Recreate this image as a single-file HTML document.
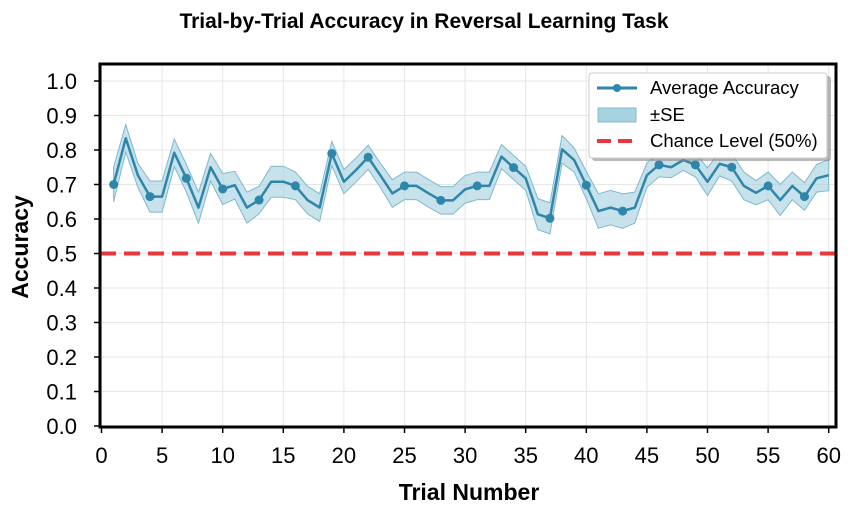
<!DOCTYPE html>
<html><head><meta charset="utf-8"><style>
html,body{margin:0;padding:0;background:#fff;}
svg{display:block;font-family:"Liberation Sans",Arial,sans-serif;}
</style></head><body>
<svg id="chart" width="851" height="510" viewBox="0 0 851 510">
<text x="424" y="28" text-anchor="middle" font-size="21" font-weight="bold">Trial-by-Trial Accuracy in Reversal Learning Task</text>
<g id="grid"></g>
<g id="band"></g>
<line id="chance" stroke="#e8383d" stroke-width="4" stroke-dasharray="16,8"/>
<g id="series"></g>
<rect x="100" y="64" width="736" height="363" fill="none" stroke="#000" stroke-width="3"/>
<g id="xt"></g>
<g id="yt"></g>
<text x="469" y="500" text-anchor="middle" font-size="23" font-weight="bold">Trial Number</text>
<text transform="translate(28,247) rotate(-90)" text-anchor="middle" font-size="23" font-weight="bold">Accuracy</text>
<g>
<rect x="592" y="76" width="239" height="85" rx="3" fill="#888" opacity="0.6"/>
<rect x="589" y="73" width="238" height="85" rx="3" fill="#fff" stroke="#ccc" stroke-width="1"/>
<g>
<line x1="597" y1="88" x2="637" y2="88" stroke="#2e86ab" stroke-width="3"/>
<circle cx="617" cy="88" r="4" fill="#2e86ab"/>
<text x="650" y="94" font-size="18.5">Average Accuracy</text></g>
<g>
<rect x="598" y="108" width="38" height="14" fill="#a9d2e0" stroke="#7fb8cf"/>
<text x="650" y="121" font-size="18.5">±SE</text></g>
<g>
<line x1="597" y1="141" x2="637" y2="141" stroke="#e8383d" stroke-width="4" stroke-dasharray="14,7"/>
<text x="650" y="147" font-size="18.5">Chance Level (50%)</text></g>
</g>
</svg>
<script>
const trials = Array.from({length:60},(_,i)=>i+1);
const accuracy = [0.70,0.834,0.727,0.665,0.665,0.792,0.718,0.633,0.75,0.687,0.698,0.633,0.655,0.708,0.708,0.696,0.655,0.633,0.79,0.708,0.742,0.779,0.727,0.674,0.696,0.696,0.674,0.654,0.654,0.686,0.696,0.696,0.781,0.749,0.718,0.614,0.602,0.802,0.771,0.698,0.623,0.633,0.623,0.633,0.727,0.757,0.75,0.771,0.757,0.708,0.76,0.75,0.696,0.676,0.696,0.655,0.696,0.665,0.718,0.727];
const se = [0.05,0.04,0.035,0.045,0.045,0.04,0.04,0.045,0.04,0.045,0.04,0.045,0.04,0.045,0.045,0.04,0.04,0.04,0.035,0.035,0.035,0.035,0.035,0.04,0.04,0.04,0.04,0.04,0.04,0.04,0.04,0.04,0.035,0.035,0.035,0.045,0.045,0.04,0.035,0.04,0.05,0.05,0.05,0.045,0.035,0.035,0.03,0.03,0.035,0.04,0.035,0.04,0.04,0.035,0.04,0.045,0.04,0.04,0.04,0.045];
const chance = 0.5;
const xTicks = [0,5,10,15,20,25,30,35,40,45,50,55,60];
const yTicks = [0,0.1,0.2,0.3,0.4,0.5,0.6,0.7,0.8,0.9,1.0];
const X = v => 101.5 + v*12.12;
const Y = v => 426 - v*345;
const NS="http://www.w3.org/2000/svg";
function mk(tag,parent,attrs){const e=document.createElementNS(NS,tag);for(const k in attrs)e.setAttribute(k,attrs[k]);parent.appendChild(e);return e;}
const grid=document.getElementById('grid'), xt=document.getElementById('xt'), yt=document.getElementById('yt');
for(let v=0;v<=61;v+=5){const l=mk('line',grid,{x1:X(v),x2:X(v),y1:64,y2:427,stroke:'#e6e6e6','stroke-width':1});

}
for(let v=0;v<=1.05;v+=0.1){const l=mk('line',grid,{x1:100,x2:836,y1:Y(v),y2:Y(v),stroke:'#e6e6e6','stroke-width':1});

}
xTicks.forEach(v=>{mk('line',xt,{x1:X(v),x2:X(v),y1:427,y2:433,stroke:'#000','stroke-width':1.5});
const t=mk('text',xt,{x:X(v),y:463,'text-anchor':'middle','font-size':22});t.textContent=v;

});
yTicks.forEach(v=>{mk('line',yt,{x1:94,x2:100,y1:Y(v),y2:Y(v),stroke:'#000','stroke-width':1.5});
const t=mk('text',yt,{x:77,y:Y(v)+8,'text-anchor':'end','font-size':22});t.textContent=v.toFixed(1);

});
const up=trials.map((t,i)=>X(t)+','+Y(accuracy[i]+se[i]));
const dn=trials.map((t,i)=>X(t)+','+Y(accuracy[i]-se[i])).reverse();
const band=mk('polygon',document.getElementById('band'),{points:up.concat(dn).join(' '),fill:'#a9d2e0','fill-opacity':0.65,stroke:'#7fb8cf','stroke-width':1});


const ch=document.getElementById('chance');
ch.setAttribute('x1',100);ch.setAttribute('x2',836);ch.setAttribute('y1',Y(chance));ch.setAttribute('y2',Y(chance));
const s=document.getElementById('series');
const line=mk('polyline',s,{points:trials.map((t,i)=>X(t)+','+Y(accuracy[i])).join(' '),fill:'none',stroke:'#2e86ab','stroke-width':2.5,'stroke-linejoin':'round'});


trials.forEach((t,i)=>{if(i%3!==0)return;
const c=mk('circle',s,{cx:X(t),cy:Y(accuracy[i]),r:4.5,fill:'#2e86ab'});

});
</script>
</body></html>
